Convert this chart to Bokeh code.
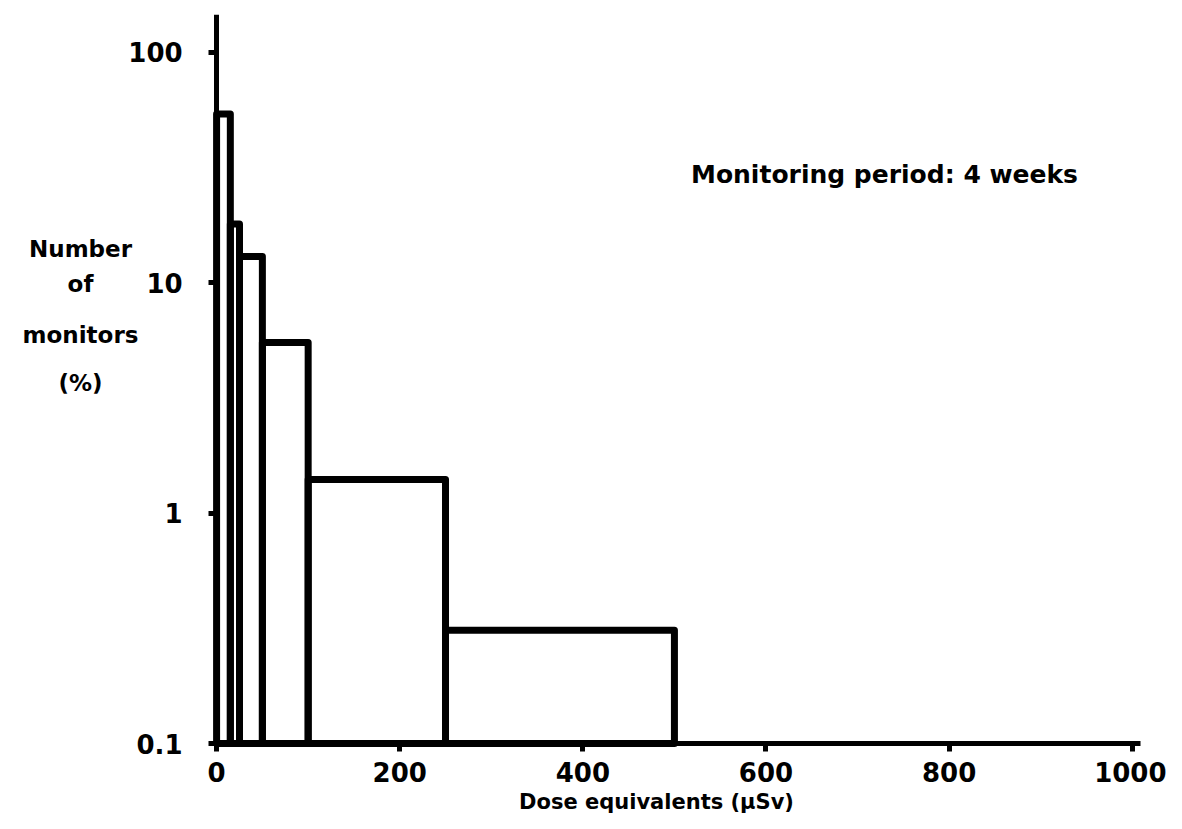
from bokeh.plotting import figure
from bokeh.models import FixedTicker, Label, Range1d
from bokeh.embed import file_html
from bokeh.resources import INLINE

# Data: histogram of dose equivalents (bin edges in µSv) vs percent of monitors
bin_left = [0, 15, 25, 50, 100, 250]
bin_right = [15, 25, 50, 100, 250, 500]
percent = [54, 18, 13, 5.5, 1.4, 0.31]

x_ticks = [0, 200, 400, 600, 800, 1000]
x_tick_labels = ["0", "200", "400", "600", "800", "1000"]
y_ticks = [0.1, 1, 10, 100]
y_tick_labels = ["0.1", "1", "10", "100"]

FONT = "DejaVu Sans"

p = figure(width=1166, height=821, output_backend="svg", toolbar_location=None,
           y_axis_type="log",
           x_range=Range1d(-236, 1037.4), y_range=Range1d(0.0459, 146),
           min_border_left=0, min_border_right=0, min_border_top=14, min_border_bottom=0)
p.outline_line_color = None
p.grid.visible = False
p.background_fill_color = "white"
p.border_fill_color = "white"

baseline = [0.1] * len(percent)
p.quad(left=bin_left, right=bin_right, bottom=baseline, top=percent,
       fill_color=None, line_color="black", line_width=7, line_join="round")

# Axes styling
for ax in (p.xaxis[0], p.yaxis[0]):
    ax.axis_line_width = 5
    ax.axis_line_color = "black"
    ax.major_tick_line_width = 5
    ax.major_tick_line_color = "black"
    ax.major_tick_in = 0
    ax.major_tick_out = 8
    ax.minor_tick_line_color = None
    ax.major_label_text_font = FONT
    ax.major_label_text_font_size = "26px"
    ax.major_label_text_font_style = "bold"
    ax.major_label_text_color = "black"

p.xaxis.fixed_location = 0.1
p.xaxis.ticker = FixedTicker(ticks=x_ticks)
p.xaxis.major_label_overrides = {t: l for t, l in zip(x_ticks, x_tick_labels)}
p.xaxis.major_label_standoff = 10
p.xaxis.bounds = (-5, 1009)

p.yaxis.fixed_location = 0
p.yaxis.bounds = (0.1, 146)
p.yaxis.ticker = FixedTicker(ticks=y_ticks)
p.yaxis.major_label_overrides = {t: l for t, l in zip(y_ticks, y_tick_labels)}
p.yaxis.major_label_standoff = 26

# Axis titles as text annotations
p.add_layout(Label(x=656, y=20, x_units="screen", y_units="screen",
                   text="Dose equivalents (µSv)",
                   text_font=FONT, text_font_size="21px", text_font_style="bold",
                   text_align="center", text_baseline="middle", text_color="black"))

ylabel_lines = ["Number", "of", "monitors", "(%)"]
ylabel_y = [573, 538, 487, 439]
for txt, yy in zip(ylabel_lines, ylabel_y):
    p.add_layout(Label(x=80, y=yy, x_units="screen", y_units="screen", text=txt,
                       text_font=FONT, text_font_size="23px", text_font_style="bold",
                       text_align="center", text_baseline="middle", text_color="black"))

p.add_layout(Label(x=884, y=647, x_units="screen", y_units="screen",
                   text="Monitoring period: 4 weeks",
                   text_font=FONT, text_font_size="25px", text_font_style="bold",
                   text_align="center", text_baseline="middle", text_color="black"))

open("out.html", "w").write(file_html(p, INLINE))
